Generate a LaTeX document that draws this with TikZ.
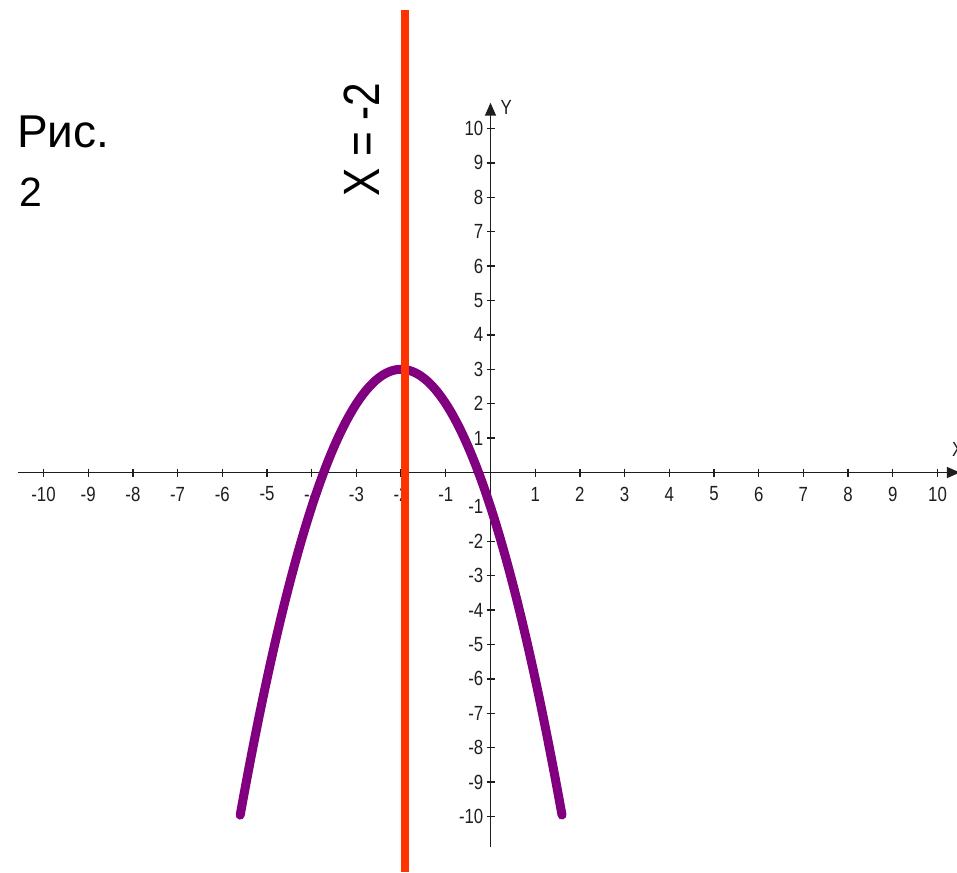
\documentclass[tikz,border=0pt]{standalone}
\usepackage{fontspec}
\setmainfont{Liberation Sans}
\newfontfamily\axfont[FakeStretch=0.82]{Liberation Sans}
\newfontfamily\eqfont[FakeStretch=0.83]{Liberation Sans}
\usetikzlibrary{arrows.meta}
\definecolor{curvepurple}{RGB}{128,0,128}
\definecolor{linered}{RGB}{255,51,0}
\definecolor{axisgray}{RGB}{30,30,30}
\tikzset{
  axisline/.style={draw=axisgray, line width=1.5pt},
  ticklabel/.style={inner sep=0pt, font=\axfont\fontsize{20.5}{20.5}\selectfont, text=axisgray},
  ticktick/.style={draw=axisgray, line width=1.3pt},
  parab/.style={draw=curvepurple, line width=9pt, line cap=round},
  redline/.style={draw=linered, line width=8pt},
}
\begin{document}
\begin{tikzpicture}[x=1pt, y=-1pt]
\useasboundingbox (0,0) rectangle (957,872);
\begin{scope}[shift={(490.5pt,-472.5pt)}, x=44.7pt, y=34.4pt]
  % axes
  \coordinate (xstart) at (-10.575,0);
  \coordinate (xend) at (10.5,0);
  \coordinate (ystart) at (0,-10.9);
  \coordinate (yend) at (0,10.75);
  \draw[axisline, -{Triangle[length=13pt,width=11pt]}] (xstart) -- (xend);
  \draw[axisline, -{Triangle[length=13pt,width=11pt]}] (ystart) -- (yend);
  \node[ticklabel, anchor=center] (xlab) at (10.45,0.66) {X};
  \node[ticklabel, anchor=center] (ylab) at (0.35,10.6) {Y};
  \foreach \i in {-10,...,-1,1,2,...,10} {
    \draw[ticktick] (\i,0) ++(0,4pt) -- ++(0,-8pt);
    \node[ticklabel, anchor=center, yshift=-21.5pt] (xt\i) at (\i,0) {\i};
  }
  \foreach \j in {-10,...,-1,1,2,...,10} {
    \draw[ticktick] (0,\j) ++(-4pt,0) -- ++(8pt,0);
    \node[ticklabel, anchor=east, xshift=-7pt] (yt\j) at (0,\j) {\j};
  }
  % parabola
  \draw[parab] plot[domain=-5.6:1.6, samples=120, smooth] (\x,{-(\x+2)*(\x+2)+3});
\end{scope}
% red line
\coordinate (rtop) at (404.7,10);
\coordinate (rbot) at (404.7,872);
\draw[redline] (rtop) -- (rbot);
% texts
\node[inner sep=0pt, anchor=base west, font=\fontsize{46}{46}\selectfont] (ris) at (17,147.7) {Рис.};
\node[inner sep=0pt, anchor=base west, font=\fontsize{41}{41}\selectfont] (two) at (19,206) {2};
\node[inner sep=0pt, anchor=base west, rotate=90, font=\eqfont\fontsize{51}{51}\selectfont] (eq) at (379.3,197) {X = -2};
\end{tikzpicture}
\end{document}
